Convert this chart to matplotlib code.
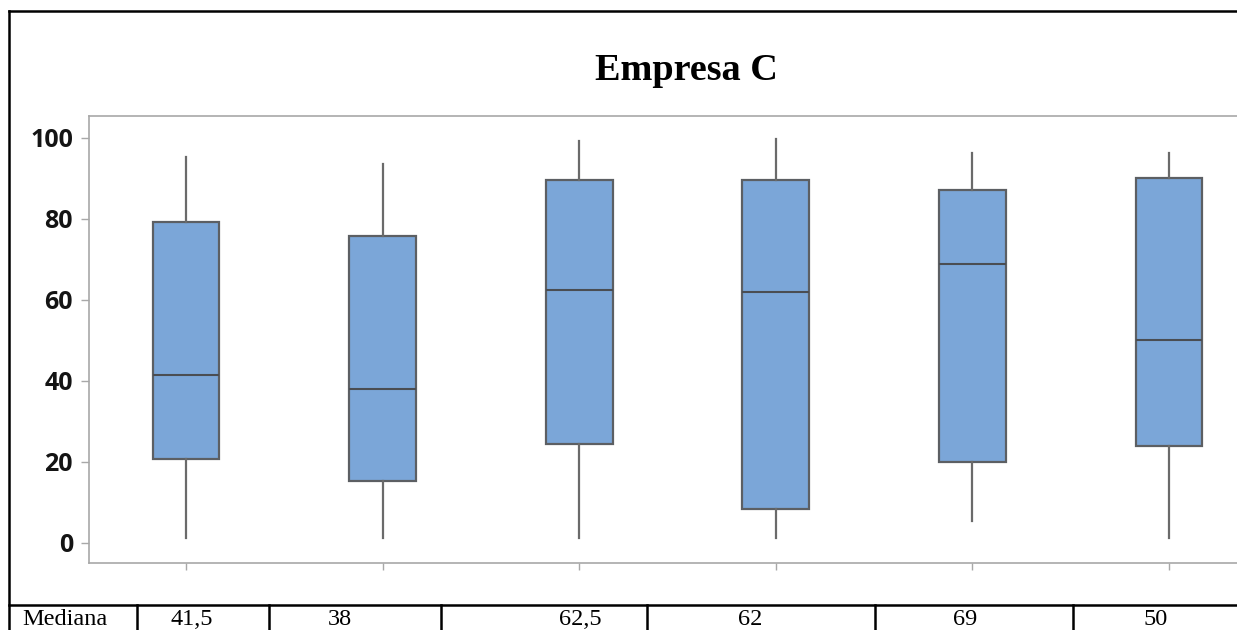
import matplotlib
matplotlib.use('Agg')
import matplotlib.pyplot as plt
from matplotlib.lines import Line2D

# Box statistics per group (whiskers are min/max)
positions = [1, 2, 3, 4, 5, 6]
whislo = [1.2, 1.2, 1.2, 1.2, 5.5, 1.2]
q1 = [20.7, 15.2, 24.4, 8.5, 20.1, 24.0]
med = [41.5, 38, 62.5, 62, 69, 50]
q3 = [79.3, 75.9, 89.6, 89.6, 87.1, 90.0]
whishi = [95.4, 93.7, 99.3, 99.8, 96.4, 96.4]

med_labels = ['41,5', '38', '62,5', '62', '69', '50']
yticks = [0, 20, 40, 60, 80, 100]

W, H = 1237, 630
fig = plt.figure(figsize=(W / 100, H / 100), dpi=100)

ax = fig.add_axes([89 / W, 1 - 563 / H, 1 - 89 / W, (563 - 116) / H])

stats = [
    dict(whislo=lo, q1=a, med=m, q3=b, whishi=hi)
    for lo, a, m, b, hi in zip(whislo, q1, med, q3, whishi)
]
ax.bxp(
    stats, positions=positions, widths=0.34, showfliers=False,
    showcaps=False, patch_artist=True,
    boxprops=dict(facecolor='#7ba6d8', edgecolor='#5c5f63', linewidth=1.6),
    whiskerprops=dict(color='#6a6a6a', linewidth=1.6),
    medianprops=dict(color='#4a4d52', linewidth=1.5),
)

ax.set_xlim(0.5066, 6.346)
ax.set_ylim(-4.94, 105.43)
ax.set_yticks(yticks)
ax.set_xticks(positions)
ax.set_xticklabels([])

for side in ('left', 'top', 'bottom'):
    ax.spines[side].set_color('#a8a8a8')
    ax.spines[side].set_linewidth(1.2)
ax.spines['right'].set_visible(False)

ax.tick_params(axis='y', length=6, width=1, color='#a8a8a8', pad=5.5,
               labelsize=18, labelcolor='#141414')
ax.tick_params(axis='x', length=5, width=1, color='#a8a8a8')
for lbl in ax.get_yticklabels():
    lbl.set_family(['Open Sans', 'DejaVu Sans'])
    lbl.set_fontweight('bold')

fig.text(686 / W, 1 - 70 / H, 'Empresa C', ha='center', va='center',
         family='Liberation Serif', fontweight='bold', fontsize=27.5)

# outer frame and median row
def hline(y, x0, x1):
    fig.add_artist(Line2D([x0 / W, x1 / W], [1 - y / H, 1 - y / H],
                          color='black', linewidth=1.8))

def vline(x, y0, y1):
    fig.add_artist(Line2D([x / W, x / W], [1 - y0 / H, 1 - y1 / H],
                          color='black', linewidth=1.8))

hline(11, 9, W)
vline(9, 11, H)
hline(605, 9, W)
for x in [137, 269, 441, 647, 875, 1073]:
    vline(x, 605, H)

fig.text(22 / W, 1 - 625 / H, 'Mediana', ha='left', va='baseline',
         family='Liberation Serif', fontsize=17.5)
for x, s in zip([192, 340, 580, 750, 965, 1156], med_labels):
    fig.text(x / W, 1 - 625 / H, s, ha='center', va='baseline',
             family='Liberation Serif', fontsize=17.5)

fig.savefig('out.png', dpi=100)
